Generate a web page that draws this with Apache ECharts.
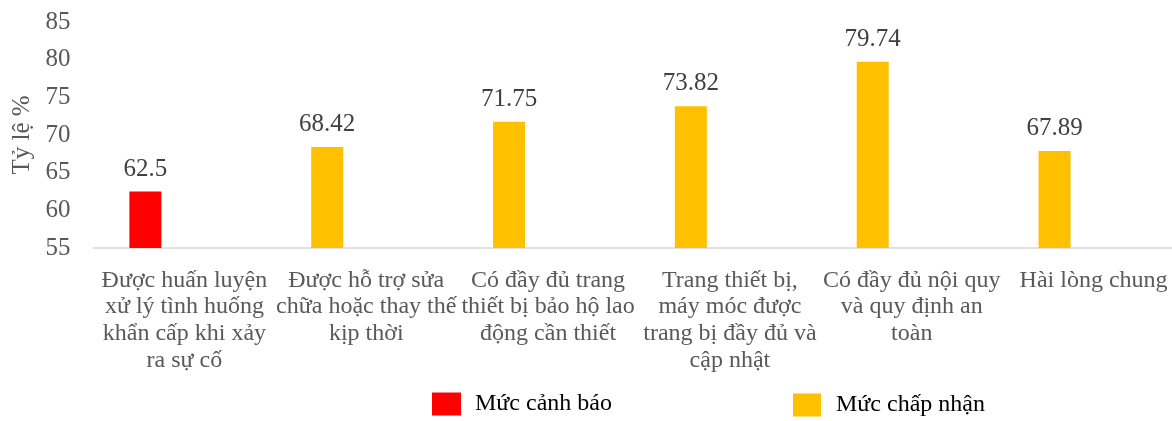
<!DOCTYPE html>
<html>
<head>
<meta charset="utf-8">
<script src="https://cdn.jsdelivr.net/npm/echarts@6/dist/echarts.min.js"></script>
<style>html,body{margin:0;padding:0;background:#fff;}#c{width:1172px;height:421px;}</style>
</head>
<body>
<div id="c"></div>
<script>
var categories = [
  "Được huấn luyện\nxử lý tình huống\nkhẩn cấp khi xảy\nra sự cố",
  "Được hỗ trợ sửa\nchữa hoặc thay thế\nkịp thời",
  "Có đầy đủ trang\nthiết bị bảo hộ lao\nđộng cần thiết",
  "Trang thiết bị,\nmáy móc được\ntrang bị đầy đủ và\ncập nhật",
  "Có đầy đủ nội quy\nvà quy định an\ntoàn",
  "Hài lòng chung"
];
var warningValues = [62.5, '-', '-', '-', '-', '-'];
var acceptValues = ['-', 68.42, 71.75, 73.82, 79.74, 67.89];
var spacerValues = ['-', '-', '-', '-', '-', '-'];
var yTicks = { min: 55, max: 85, interval: 5 };

var FONT = '"Liberation Serif", "Times New Roman", serif';
var chart = echarts.init(document.getElementById('c'));
var labelCfg = {
  show: true, position: 'top', distance: 10,
  fontFamily: FONT, fontSize: 25, color: '#404040'
};
chart.setOption({
  animation: false,
  grid: { left: 93.5, width: 1091, top: 22, bottom: 173, containLabel: false, outerBoundsMode: 'none' },
  legend: [
    { data: ['Mức cảnh báo'], left: 427, top: 387, itemWidth: 29, itemHeight: 23, itemGap: 0, icon: 'rect',
      textStyle: { fontFamily: FONT, fontSize: 24, color: '#000', padding: [0, 0, 0, 9] } },
    { data: ['Mức chấp nhận'], left: 788, top: 388, itemWidth: 28, itemHeight: 23, itemGap: 0, icon: 'rect',
      textStyle: { fontFamily: FONT, fontSize: 24, color: '#000', padding: [0, 0, 0, 10] } }
  ],
  xAxis: {
    type: 'category', data: categories,
    axisLine: { lineStyle: { color: '#d9d9d9', width: 1.5 } },
    axisTick: { show: false },
    axisLabel: { interval: 0, margin: 19, fontFamily: FONT, fontSize: 24, lineHeight: 26.7, color: '#595959' }
  },
  yAxis: {
    type: 'value', min: yTicks.min, max: yTicks.max, interval: yTicks.interval,
    name: 'Tỷ lệ %', nameLocation: 'middle', nameGap: 54, nameRotate: 90,
    nameTextStyle: { fontFamily: FONT, fontSize: 25, color: '#595959' },
    axisLine: { show: false }, axisTick: { show: false }, splitLine: { show: false },
    axisLabel: { margin: 23, fontFamily: FONT, fontSize: 25, color: '#595959' }
  },
  series: [
    { name: 'Mức cảnh báo', type: 'bar', stack: 'main', data: warningValues, barWidth: 32, barGap: '144%',
      itemStyle: { color: '#FF0000' }, label: labelCfg },
    { name: 'Mức chấp nhận', type: 'bar', stack: 'main', data: acceptValues, barWidth: 32, barGap: '144%',
      itemStyle: { color: '#FFC000' }, label: labelCfg },
    { name: 'spacer', type: 'bar', stack: 'spacer', data: spacerValues, barWidth: 32, barGap: '144%',
      itemStyle: { color: 'transparent' } }
  ]
});
</script>
</body>
</html>
